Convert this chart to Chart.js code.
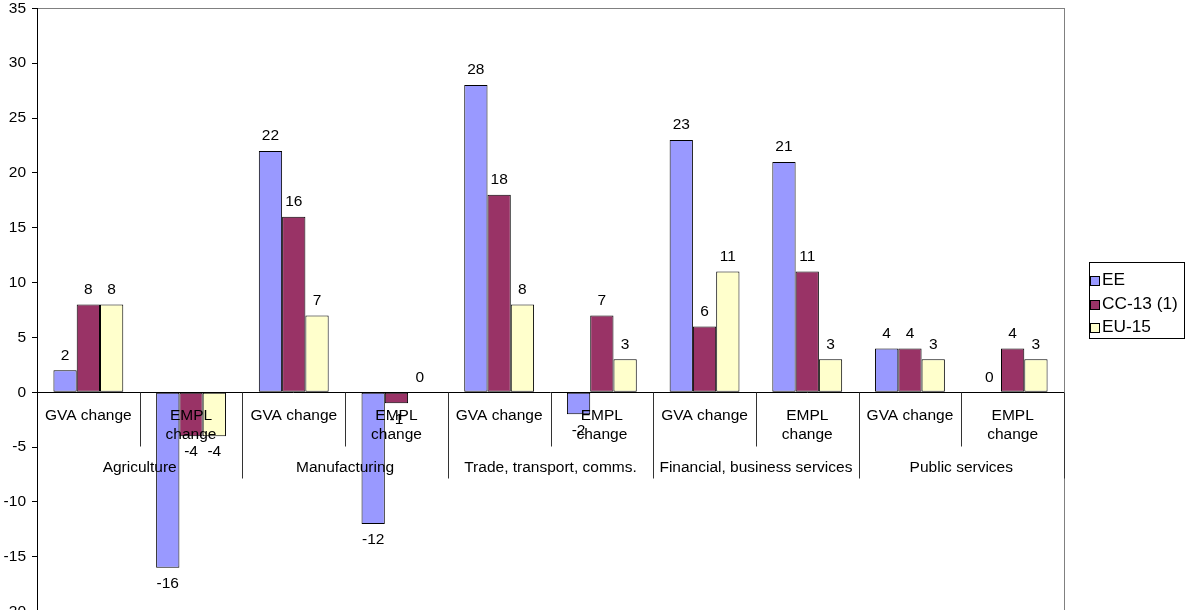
<!DOCTYPE html>
<html>
<head>
<meta charset="utf-8">
<script src="https://cdn.jsdelivr.net/npm/chart.js@4.4.1/dist/chart.umd.min.js"></script>
<style>
  html, body { margin: 0; padding: 0; background: #fff; overflow: hidden; }
  #wrap { position: absolute; left: 0; top: -7px; width: 1186px; height: 634px; }
</style>
</head>
<body>
<div id="wrap"><canvas id="c"></canvas></div>
<script>
// ---- Data ----
const subLabels = ['GVA change', 'EMPL change', 'GVA change', 'EMPL change', 'GVA change',
                   'EMPL change', 'GVA change', 'EMPL change', 'GVA change', 'EMPL change'];
const groupLabels = ['Agriculture', 'Manufacturing', 'Trade, transport, comms.',
                     'Financial, business services', 'Public services'];
const seriesNames = ['EE', 'CC-13 (1)', 'EU-15'];
const eeValues = [2, -16, 22, -12, 28, -2, 23, 21, 4, 0];
const ccValues = [8, -4, 16, -1, 18, 7, 6, 11, 4, 4];
const euValues = [8, -4, 7, 0, 8, 3, 11, 3, 3, 3];
const yMin = -20, yMax = 35, yStep = 5;

const FONT = "'Liberation Sans', Arial, sans-serif";
const FS = 15.5;
const colors = ['#9999FF', '#993366', '#FFFFCC'];

function splitLabel(s) {
  if (s.startsWith('EMPL')) return s.split(' ');
  return [s];
}

const overlay = {
  id: 'overlay',
  beforeDraw(chart) {
    const { ctx, chartArea: a } = chart;
    ctx.save();
    ctx.strokeStyle = '#808080';
    ctx.lineWidth = 1;
    ctx.strokeRect(Math.round(a.left) + 0.5, Math.round(a.top) + 0.5,
                   Math.round(a.right - a.left), Math.round(a.bottom - a.top));
    ctx.restore();
  },
  afterDatasetsDraw(chart) {
    const { ctx, chartArea: a } = chart;
    const x = chart.scales.x, y = chart.scales.y;
    const y0 = Math.round(y.getPixelForValue(0)) + 0.5;
    ctx.save();
    ctx.strokeStyle = '#000';
    ctx.lineWidth = 1;
    ctx.beginPath();
    ctx.moveTo(a.left, y0); ctx.lineTo(a.right, y0);
    ctx.stroke();

    const n = subLabels.length;
    const bounds = [];
    for (let i = 0; i <= n; i++) {
      let px;
      if (i === 0) px = a.left;
      else if (i === n) px = a.right;
      else px = (x.getPixelForValue(i - 1) + x.getPixelForValue(i)) / 2;
      bounds.push(px);
    }
    ctx.strokeStyle = '#333';
    for (let i = 1; i <= n; i++) {
      const px = Math.round(bounds[i]) + 0.5;
      const len = (i % 2 === 0) ? 86 : 54;
      ctx.beginPath();
      ctx.moveTo(px, y0); ctx.lineTo(px, y0 + len);
      ctx.stroke();
    }

    ctx.fillStyle = '#000';
    ctx.font = FS + 'px ' + FONT;
    ctx.textAlign = 'center';
    ctx.textBaseline = 'middle';
    for (let i = 0; i < n; i++) {
      const cx = x.getPixelForValue(i);
      const lines = splitLabel(subLabels[i]);
      lines.forEach((ln, k) => ctx.fillText(ln, cx, y0 + 23 + k * 19));
    }
    for (let g = 0; g < groupLabels.length; g++) {
      const cx = bounds[2 * g + 1];
      ctx.fillText(groupLabels[g], cx, y0 + 75);
    }

    chart.data.datasets.forEach((ds, di) => {
      const meta = chart.getDatasetMeta(di);
      meta.data.forEach((el, i) => {
        const v = ds.data[i];
        const ly = v < 0 ? el.y + 16 : el.y - 15;
        ctx.fillText(String(v), el.x, ly);
      });
    });

    // legend (canvas is shifted 7px up, so add 7)
    const lx = 1089.5, ly = 269.5, lw = 95, lh = 76;
    ctx.strokeStyle = '#000';
    ctx.strokeRect(lx, ly, lw, lh);
    ctx.textAlign = 'left';
    ctx.font = '16px ' + FONT;
    seriesNames.forEach((nm, k) => {
      const cy = 287 + k * 23.5;
      ctx.fillStyle = colors[k];
      ctx.fillRect(lx + 1, Math.round(cy - 4), 9, 9);
      ctx.strokeStyle = '#000';
      ctx.strokeRect(lx + 1, Math.round(cy - 4) + 0.5, 9, 9);
      ctx.fillStyle = '#000';
      ctx.save();
      ctx.translate(lx + 12.5, cy + 1);
      ctx.scale(1.08, 1);
      ctx.fillText(nm, 0, 0);
      ctx.restore();
    });
    ctx.restore();
  }
};

new Chart(document.getElementById('c'), {
  type: 'bar',
  data: {
    labels: subLabels,
    datasets: [
      { label: seriesNames[0], data: eeValues, backgroundColor: colors[0] },
      { label: seriesNames[1], data: ccValues, backgroundColor: colors[1] },
      { label: seriesNames[2], data: euValues, backgroundColor: colors[2] }
    ].map(d => Object.assign(d, {
      borderColor: '#000', borderWidth: 1, borderSkipped: false,
      categoryPercentage: 0.68, barPercentage: 1.0
    }))
  },
  options: {
    responsive: true,
    maintainAspectRatio: false,
    animation: false,
    devicePixelRatio: 1,
    layout: { padding: { left: 0, right: 122, top: 0, bottom: 0 } },
    plugins: { legend: { display: false }, tooltip: { enabled: false } },
    scales: {
      x: { display: false },
      y: {
        min: yMin, max: yMax,
        ticks: { stepSize: yStep, color: '#000', padding: 6,
                 font: { family: FONT, size: FS } },
        grid: { drawOnChartArea: false, drawTicks: true, tickLength: 5, color: '#000' },
        border: { display: true, color: '#000' },
        afterFit(scale) { scale.width = 37; }
      }
    }
  },
  plugins: [overlay]
});
</script>
</body>
</html>
